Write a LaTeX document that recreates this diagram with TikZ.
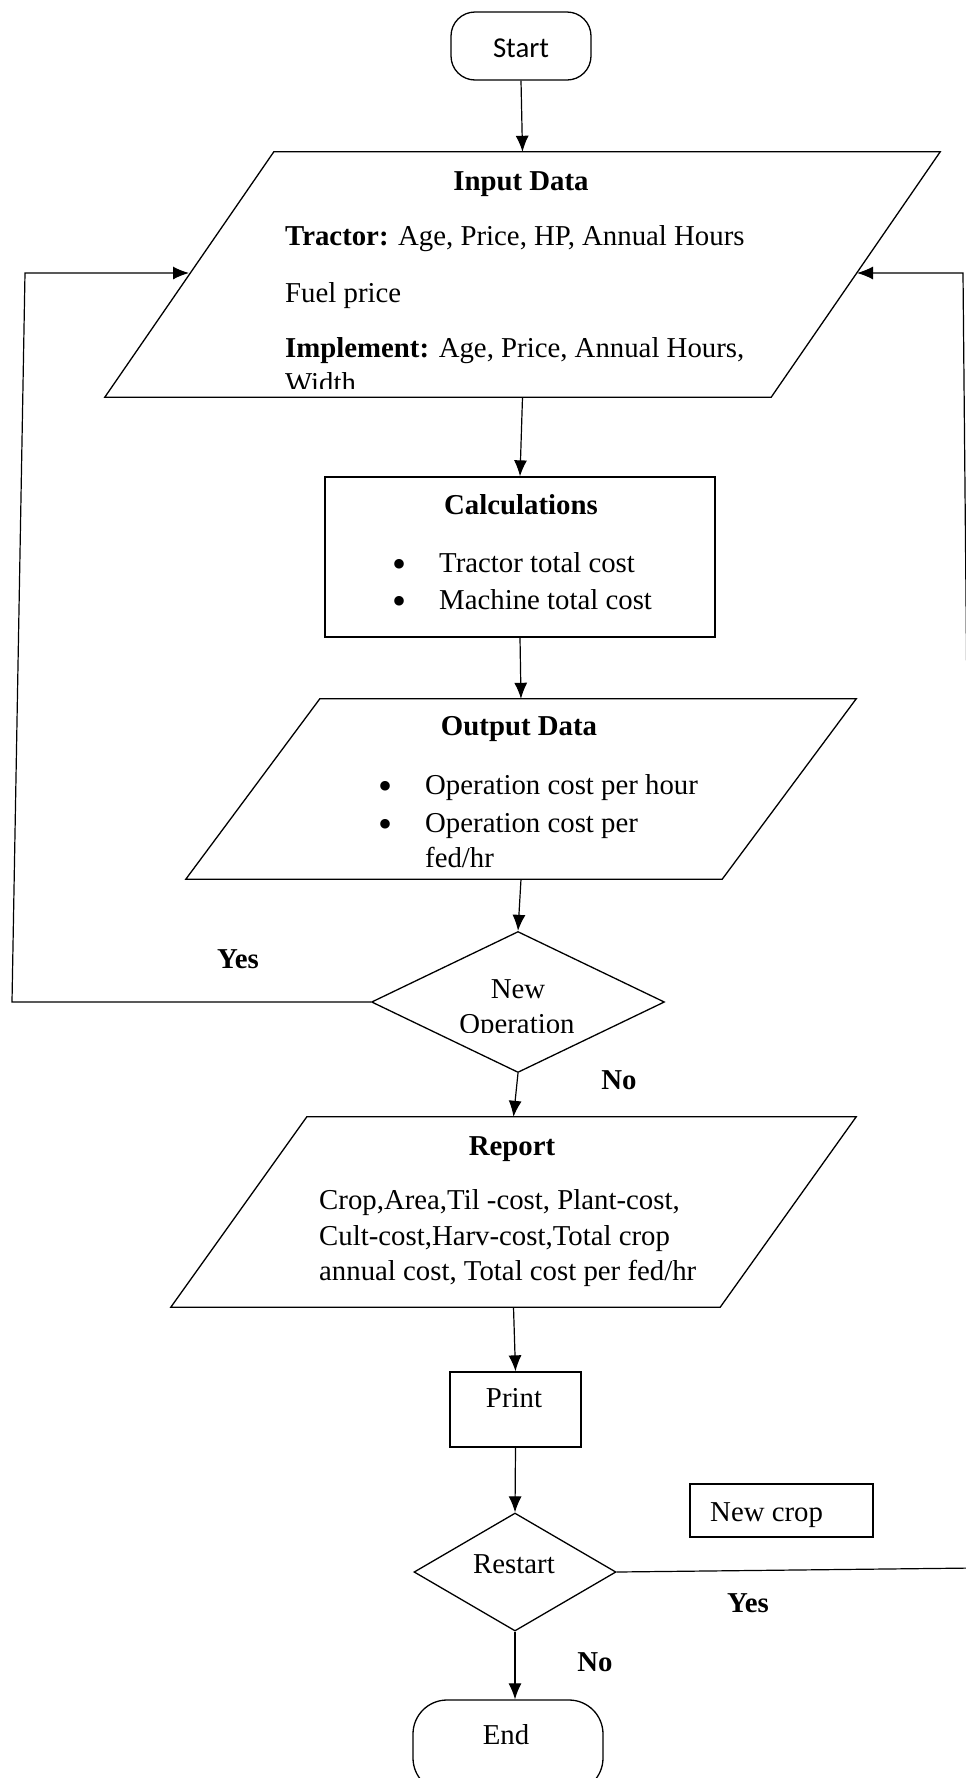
\documentclass[tikz,border=0pt]{standalone}
\usepackage{fontspec}
\setmainfont{Liberation Serif}
\newfontfamily\startfont{Carlito}
\usetikzlibrary{arrows.meta,calc,shapes.geometric}
\newcommand\fs{\fontsize{28.8}{34}\selectfont}
\newcommand\bfs{\fontsize{40}{40}\selectfont}
\newcommand\drawpara[2]{\draw[line width=1.3pt] ($(#1.north west)+(#2,0)$) -- (#1.north east) -- ($(#1.south east)-(#2,0)$) -- (#1.south west) -- cycle;}
\tikzset{
  shp/.style={draw, line width=1.3pt, inner sep=0pt},
  bbox/.style={inner sep=0pt},
  lbl/.style={inner sep=0pt, anchor=base, font=\fs},
  lblw/.style={inner sep=0pt, anchor=base west, font=\fs},
  bld/.style={inner sep=0pt, anchor=base, font=\fs\bfseries},
  bul/.style={inner sep=0pt, anchor=base, font=\bfs},
  conn/.style={line width=1.2pt, -{Latex[length=16pt,width=13pt]}},
}
\begin{document}
\begin{tikzpicture}[x=1pt,y=-1pt]
\useasboundingbox (0,0) rectangle (966,1778);
\fill[white] (0,0) rectangle (966,1778);
\clip (0,0) rectangle (966,1778);

% Start
\node[shp, rounded corners=24pt, minimum width=140pt, minimum height=68pt] (start) at (521,46) {};
\node[lbl, font=\startfont\fs] (tstart) at (521,57) {Start};

% Input data
\node[bbox, minimum width=835pt, minimum height=245pt] (input) at (522.5,274.5) {};
\drawpara{input}{169}
\node[bld] (tinput) at (521,190) {Input Data};
\node[lblw] (ttractor) at (285,245) {\textbf{Tractor:} Age, Price, HP, Annual Hours};
\node[lblw] (tfuel) at (285,302) {Fuel price};
\node[lblw] (timpl) at (285,357) {\textbf{Implement:} Age, Price, Annual Hours,};
\begin{scope}
\clip (100,150) rectangle (940,388);
\node[lblw] (twidth) at (285,392) {Width};
\end{scope}

% Calculations
\node[shp, minimum width=390pt, minimum height=160pt] (calc) at (520,557) {};
\node[bld] (tcalc) at (521,514) {Calculations};
\node[bul] (b1) at (399,577) {\textbullet};
\node[lblw] (tc1) at (439,572) {Tractor total cost};
\node[bul] (b2) at (399,614) {\textbullet};
\node[lblw] (tc2) at (439,609) {Machine total cost};

% Output data
\node[bbox, minimum width=670pt, minimum height=180pt] (output) at (521,789) {};
\drawpara{output}{134}
\node[bld] (toutput) at (519,735) {Output Data};
\node[bul] (b3) at (385,799) {\textbullet};
\node[lblw] (to1) at (425,794) {Operation cost per hour};
\node[bul] (b4) at (385,837) {\textbullet};
\node[lblw] (to2) at (425,832) {Operation cost per};
\node[lblw] (to3) at (425,867) {fed/hr};

% New operation decision
\node[shp, diamond, minimum width=293pt, minimum height=141pt] (newop) at (518,1002) {};
\node[lbl] (tnew) at (518,998) {New};
\begin{scope}
\clip (371,930) rectangle (664,1032);
\node[lbl] (toper) at (517,1033) {Operation};
\end{scope}
\node[bld] (yes1) at (238,968) {Yes};
\node[bld] (no1) at (619,1089) {No};

% Report
\node[bbox, minimum width=685pt, minimum height=190pt] (report) at (513.5,1212) {};
\drawpara{report}{136}
\node[bld] (treport) at (512,1155) {Report};
\node[lblw] (tr1) at (319,1209) {Crop,Area,Til -cost, Plant-cost,};
\node[lblw] (tr2) at (319,1245) {Cult-cost,Harv-cost,Total crop};
\node[lblw] (tr3) at (319,1280) {annual cost, Total cost per fed/hr};

% Print
\node[shp, minimum width=131pt, minimum height=75pt] (print) at (515.5,1409.5) {};
\node[lbl] (tprint) at (514,1407) {Print};

% New crop
\node[shp, minimum width=183pt, minimum height=53pt] (newcrop) at (781.5,1510.5) {};
\node[lblw] (tnewcrop) at (710,1521) {New crop};

% Restart decision
\node[shp, diamond, minimum width=202pt, minimum height=118pt] (restart) at (515,1572) {};
\node[lbl] (trestart) at (514,1573) {Restart};
\node[bld] (yes2) at (748,1612) {Yes};
\node[bld] (no2) at (595,1671) {No};

% End
\node[shp, rounded corners=34pt, minimum width=190pt, minimum height=92pt] (end) at (508,1746) {};
\node[lbl] (tend) at (506,1744) {End};

% Connectors
\draw[conn] (start.south) -- (input.north);
\draw[conn] (input.south) -- (calc.north);
\draw[conn] (calc.south) -- (output.north);
\draw[conn] (output.south) -- (newop.north);
\draw[conn] (newop.south) -- (report.north);
\draw[conn] (report.south) -- (print.north);
\draw[conn] (print.south) -- (restart.north);
\draw[conn] (restart.south) -- (restart.south |- end.north);

\coordinate (yl1) at (12,1002);
\coordinate (yl2) at (25,273);
\coordinate (inL) at (189,273);
\draw[conn] (newop.west) -- (yl1) -- (yl2) -- (inL);

\coordinate (yr1) at (975,1568);
\coordinate (yr2) at (963,273);
\coordinate (inR) at (857,273);
\draw[conn] (restart.east) -- (yr1) -- (yr2) -- (inR);
\end{tikzpicture}
\end{document}
